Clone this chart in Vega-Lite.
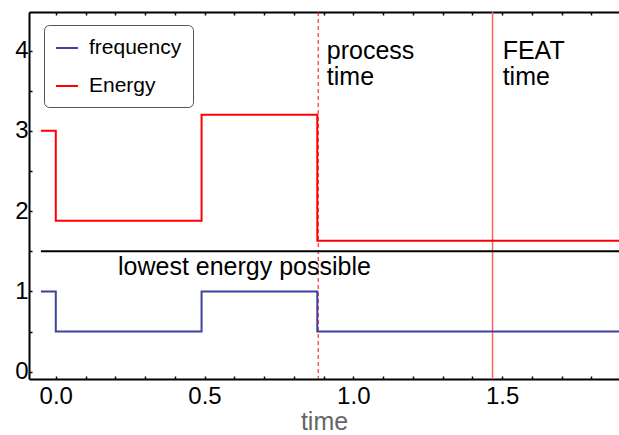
{
  "$schema": "https://vega.github.io/schema/vega-lite/v6.json",
  "width": 590,
  "height": 367,
  "autosize": {"type": "none"},
  "padding": {"left": 29, "top": 12, "right": 0, "bottom": 56},
  "config": {
    "font": "Liberation Sans",
    "view": {"stroke": null},
    "axis": {"grid": false, "labelFont": "Liberation Sans", "titleFont": "Liberation Sans"},
    "axisY": {
      "values": [0, 0.2, 0.4, 0.6, 0.8, 1, 1.2, 1.4, 1.6, 1.8, 2, 2.2, 2.4, 2.6, 2.8, 3, 3.2, 3.4, 3.6, 3.8, 4, 4.2, 4.4],
      "labelExpr": "abs(round(datum.value*10)%10)==0 ? format(datum.value,'d') : ''",
      "labelOverlap": false,
      "labelFlush": false,
      "labelFontSize": 24,
      "labelColor": "black",
      "labelPadding": 4,
      "domainColor": "black",
      "domainWidth": 2,
      "tickColor": "black",
      "tickWidth": 1.5,
      "tickSize": -3,
      "title": null
    }
  },
  "resolve": {"axis": {"x": "independent"}},
  "layer": [
    {
      "data": {"values": [{"t": 0.882}]},
      "mark": {"type": "rule", "color": "#ff0000", "strokeWidth": 1, "strokeDash": [4, 3]},
      "encoding": {"x": {"field": "t", "type": "quantitative", "axis": null}}
    },
    {
      "data": {"values": [{"t": 1.468}]},
      "mark": {"type": "rule", "color": "#ff6060", "strokeWidth": 1.5},
      "encoding": {"x": {"field": "t", "type": "quantitative", "axis": null}}
    },
    {
      "data": {"values": [{"t": -0.05, "t2": 1.95, "v": 1.5}]},
      "mark": {"type": "rule", "color": "black", "strokeWidth": 2, "clip": true},
      "encoding": {
        "x": {
          "field": "t", "type": "quantitative",
          "axis": {
            "orient": "top",
            "values": [0, 0.1, 0.2, 0.3, 0.4, 0.5, 0.6, 0.7, 0.8, 0.9, 1, 1.1, 1.2, 1.3, 1.4, 1.5, 1.6, 1.7, 1.8],
            "labels": false,
            "title": null,
            "domainColor": "black",
            "domainWidth": 2,
            "tickColor": "black",
            "tickWidth": 1.5,
            "tickSize": -3
          }
        },
        "x2": {"field": "t2"},
        "y": {"field": "v", "type": "quantitative", "title": null}
      }
    },
    {
      "data": {"values": [
        {"t": -0.05, "v": 1, "series": "frequency"},
        {"t": 0, "v": 0.5, "series": "frequency"},
        {"t": 0.49, "v": 1, "series": "frequency"},
        {"t": 0.879, "v": 0.5, "series": "frequency"},
        {"t": 1.95, "v": 0.5, "series": "frequency"},
        {"t": -0.05, "v": 3, "series": "Energy"},
        {"t": 0, "v": 1.88, "series": "Energy"},
        {"t": 0.49, "v": 3.2, "series": "Energy"},
        {"t": 0.879, "v": 1.63, "series": "Energy"},
        {"t": 1.95, "v": 1.63, "series": "Energy"}
      ]},
      "mark": {"type": "line", "interpolate": "step-after", "strokeWidth": 2, "clip": true},
      "encoding": {
        "x": {
          "field": "t", "type": "quantitative",
          "scale": {"domain": [-0.09, 1.893], "nice": false, "zero": false},
          "axis": {
            "orient": "bottom",
            "values": [0, 0.1, 0.2, 0.3, 0.4, 0.5, 0.6, 0.7, 0.8, 0.9, 1, 1.1, 1.2, 1.3, 1.4, 1.5, 1.6, 1.7, 1.8],
            "labelExpr": "abs(round(datum.value*10)%5)==0 ? format(datum.value,'.1f') : ''",
            "labelOverlap": false,
            "labelFlush": false,
            "labelFontSize": 24,
            "labelColor": "black",
            "labelPadding": 8,
            "domainColor": "black",
            "domainWidth": 2,
            "tickColor": "black",
            "tickWidth": 1.5,
            "tickSize": -3,
            "title": "time",
            "titleFontSize": 25,
            "titleFontWeight": "normal",
            "titleColor": "#666666",
            "titlePadding": 1
          }
        },
        "y": {
          "field": "v", "type": "quantitative", "title": null,
          "scale": {"domain": [-0.09, 4.48], "nice": false, "zero": false}
        },
        "color": {
          "field": "series", "type": "nominal",
          "scale": {"domain": ["frequency", "Energy"], "range": ["#4040a0", "#ff0000"]},
          "legend": {
            "orient": "none",
            "legendX": 15,
            "legendY": 13,
            "title": null,
            "symbolType": "stroke",
            "symbolSize": 484,
            "symbolStrokeWidth": 2,
            "labelFontSize": 21,
            "labelColor": "black",
            "labelOffset": 10,
            "rowPadding": 16,
            "padding": 11,
            "strokeColor": "#555555",
            "cornerRadius": 5,
            "fillColor": "white"
          }
        }
      }
    },
    {
      "data": {"values": [
        {"t": 0.911, "v": 3.89, "label": "process\ntime"},
        {"t": 1.502, "v": 3.89, "label": "FEAT\ntime"},
        {"t": 0.209, "v": 1.2, "label": "lowest energy possible"}
      ]},
      "mark": {"type": "text", "align": "left", "baseline": "alphabetic", "fontSize": 25, "lineHeight": 26, "lineBreak": "\n", "color": "black"},
      "encoding": {
        "x": {"field": "t", "type": "quantitative", "axis": null},
        "y": {"field": "v", "type": "quantitative", "title": null},
        "text": {"field": "label"}
      }
    }
  ]
}
